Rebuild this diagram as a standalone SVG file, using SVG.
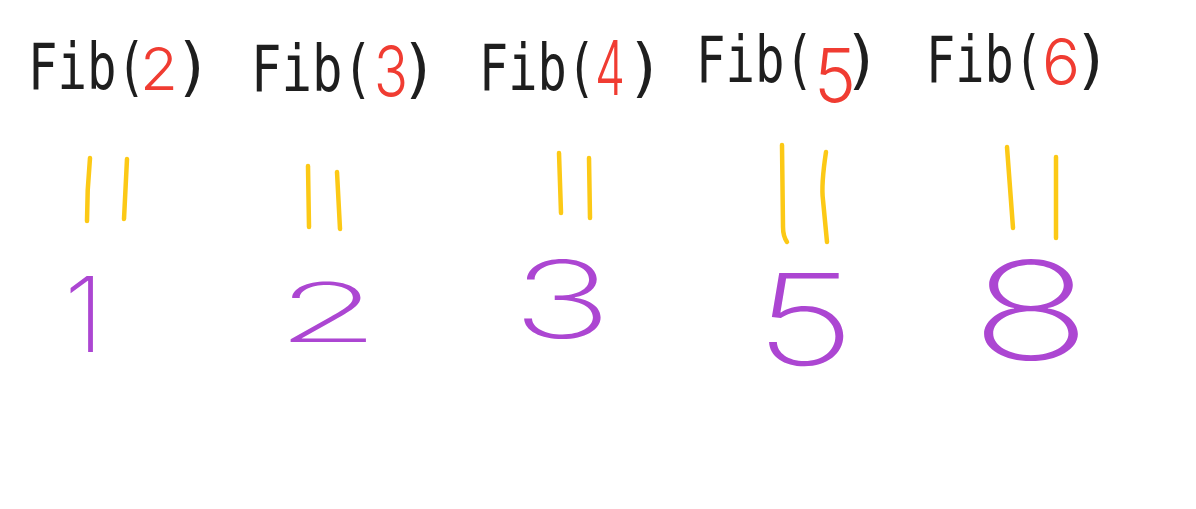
<svg xmlns="http://www.w3.org/2000/svg" width="1196" height="509" viewBox="0 0 1196 509">
  <style>
    .fib { font-family: "DejaVu Sans Mono", "Liberation Mono", monospace; font-size: 64px; fill: #1e1e1e; }
    .par { font-family: "DejaVu Sans Mono", "Liberation Mono", monospace; font-size: 64px; fill: #1e1e1e; text-anchor: middle; }
    .arg { font-family: Inter, Roboto, "DejaVu Sans", sans-serif; font-weight: 300; fill: #f03c32; text-anchor: middle; }
    .eq { stroke: #fcc916; stroke-width: 4.5; stroke-linecap: round; fill: none; }
    .val { font-family: Inter, Roboto, "DejaVu Sans", sans-serif; font-weight: 200; fill: #ac46d2; text-anchor: middle; }
  </style>
  <rect width="1196" height="509" fill="#ffffff"/>
  <g id="fib2">
    <text class="fib" x="28" y="89" textLength="118" lengthAdjust="spacingAndGlyphs">Fib(</text>
    <text class="arg" x="159" y="90" font-size="59" textLength="38" lengthAdjust="spacingAndGlyphs">2</text>
    <text class="par" x="193" y="89">)</text>
  </g>
  <g id="fib3">
    <text class="fib" x="251" y="91" font-size="68" textLength="122" lengthAdjust="spacingAndGlyphs">Fib(</text>
    <text class="arg" x="391" y="97" font-size="71" textLength="34" lengthAdjust="spacingAndGlyphs">3</text>
    <text class="par" x="419" y="91" font-size="68">)</text>
  </g>
  <g id="fib4">
    <text class="fib" x="479" y="90" textLength="117" lengthAdjust="spacingAndGlyphs">Fib(</text>
    <text class="arg" x="610" y="95" font-size="75" textLength="30" lengthAdjust="spacingAndGlyphs">4</text>
    <text class="par" x="645" y="90">)</text>
  </g>
  <g id="fib5">
    <text class="fib" x="696" y="82" textLength="118" lengthAdjust="spacingAndGlyphs">Fib(</text>
    <text class="arg" x="835" y="102" font-size="74" textLength="42" lengthAdjust="spacingAndGlyphs">5</text>
    <text class="par" x="862" y="82">)</text>
  </g>
  <g id="fib6">
    <text class="fib" x="926" y="82" textLength="117" lengthAdjust="spacingAndGlyphs">Fib(</text>
    <text class="arg" x="1061" y="85" font-size="64" textLength="38" lengthAdjust="spacingAndGlyphs">6</text>
    <text class="par" x="1092" y="82">)</text>
  </g>
  <g id="connectors">
    <path class="eq" d="M90,158 Q87,190 87,221"/>
    <path class="eq" d="M127,159 L124,219"/>
    <path class="eq" d="M308,166 L309,227"/>
    <path class="eq" d="M337,172 L340,229"/>
    <path class="eq" d="M559,153 L561,213"/>
    <path class="eq" d="M589,158 L590,218"/>
    <path class="eq" d="M782,145 L783,227 Q783,236 787,242"/>
    <path class="eq" d="M826,152 Q821,185 823,200 L827,242"/>
    <path class="eq" d="M1007,147 L1013,228"/>
    <path class="eq" d="M1056,157 L1056,238"/>
  </g>
  <g id="v1"><text class="val" x="84" y="352" font-size="105">1</text></g>
  <g id="v2"><text class="val" x="328" y="342" font-size="82" textLength="104" lengthAdjust="spacingAndGlyphs">2</text></g>
  <g id="v3"><text class="val" x="562" y="338" font-size="107" textLength="100" lengthAdjust="spacingAndGlyphs">3</text></g>
  <g id="v5"><text class="val" x="805" y="365" font-size="127" textLength="100" lengthAdjust="spacingAndGlyphs">5</text></g>
  <g id="v8"><text class="val" x="1031" y="360" font-size="137" textLength="121" lengthAdjust="spacingAndGlyphs">8</text></g>
</svg>
